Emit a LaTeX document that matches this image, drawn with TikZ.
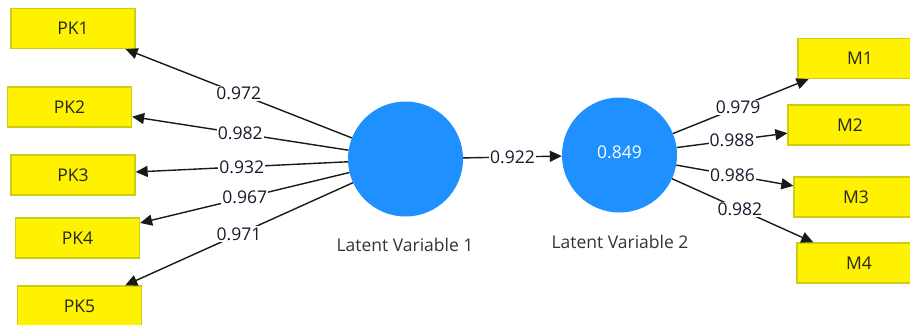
\documentclass[tikz,border=0pt]{standalone}
\usepackage{fontspec}
\setmainfont{Open Sans}
\usetikzlibrary{arrows.meta}
\definecolor{lvblue}{RGB}{30,144,255}
\definecolor{boxedge}{RGB}{205,205,20}
\definecolor{linkgray}{RGB}{25,25,25}
\definecolor{labeltext}{RGB}{25,25,45}
\tikzset{
  indicator/.style={draw=boxedge, line width=1.3pt, fill=yellow,
    minimum width=124pt, minimum height=40pt, inner sep=0pt,
    font=\fontsize{17.5}{19}\selectfont, text=black!85},
  latent/.style={circle, fill=lvblue, draw=none, minimum size=115pt, inner sep=0pt,
    font=\fontsize{17.5}{19}\selectfont, text=white},
  lvname/.style={font=\fontsize{17.5}{19}\selectfont, text=black!80},
  loading/.style={draw=linkgray, line width=1.4pt,
    -{Triangle[length=12pt,width=11pt]}},
  weight/.style={fill=white, inner sep=1.2pt, text=labeltext,
    font=\fontsize{17.5}{19}\selectfont}
}
\begin{document}
\begin{tikzpicture}[x=1pt,y=-1pt]
  \useasboundingbox (0,0) rectangle (910,324);

  % latent constructs
  \node[latent] (LV1) at (405.5,159) {};
  \node[latent] (LV2) at (619.5,155) {\raisebox{5pt}{0.849}};
  \node[lvname] (LV1name) at (405,245) {Latent Variable 1};
  \node[lvname] (LV2name) at (620,242) {Latent Variable 2};

  % indicators of the first construct
  \node[indicator] (PK1) at (73,28.5) {PK1};
  \node[indicator] (PK2) at (69.5,107) {PK2};
  \node[indicator] (PK3) at (73,175) {PK3};
  \node[indicator] (PK4) at (77.5,238) {PK4};
  \node[indicator] (PK5) at (79.5,306) {PK5};

  % indicators of the second construct
  \node[indicator] (M1) at (860,58.5) {M1};
  \node[indicator] (M2) at (850,125) {M2};
  \node[indicator] (M3) at (856,197) {M3};
  \node[indicator] (M4) at (859,263) {M4};

  % outer loadings
  \draw[loading] (LV1) -- node[weight] (w1) {0.972} (PK1);
  \draw[loading] (LV1) -- node[weight] (w2) {0.982} (PK2);
  \draw[loading] (LV1) -- node[weight] (w3) {0.932} (PK3);
  \draw[loading] (LV1) -- node[weight] (w4) {0.967} (PK4);
  \draw[loading] (LV1) -- node[weight] (w5) {0.971} (PK5);

  \draw[loading] (LV2) -- node[weight,pos=0.48] (w6) {0.979} (M1);
  \draw[loading] (LV2) -- node[weight] (w7) {0.988} (M2);
  \draw[loading] (LV2) -- node[weight,pos=0.48] (w8) {0.986} (M3);
  \draw[loading] (LV2) -- node[weight,pos=0.48] (w9) {0.982} (M4);

  % structural path
  \draw[loading] (LV1) -- node[weight] (p1) {0.922} (LV2);
\end{tikzpicture}
\end{document}
